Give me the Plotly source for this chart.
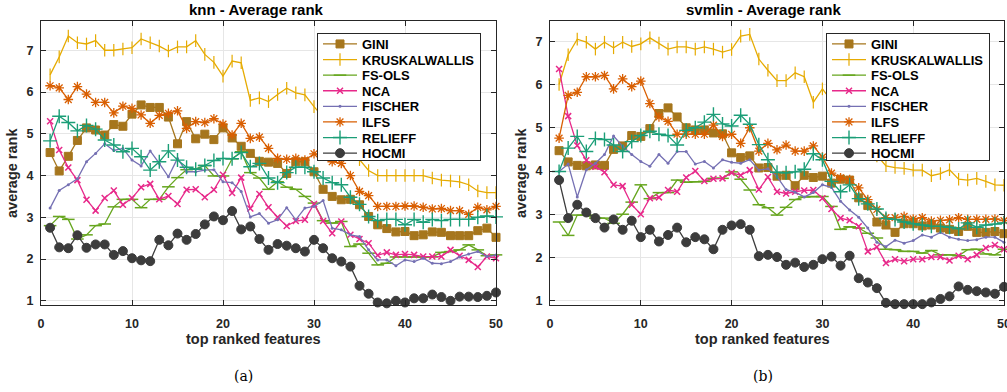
import plotly.graph_objects as go

x_vals = list(range(1, 51))
methods = ["GINI", "KRUSKALWALLIS", "FS-OLS", "NCA", "FISCHER", "ILFS", "RELIEFF", "HOCMI"]

knn = {
    "GINI": [4.55, 4.11, 4.46, 4.84, 5.14, 5.09, 4.97, 5.22, 5.18, 5.47, 5.69, 5.63, 5.63, 5.40, 4.76, 5.29, 4.88, 4.99, 4.86, 5.14,
             4.90, 4.70, 4.53, 4.34, 4.32, 4.29, 4.05, 4.33, 4.33, 4.09, 3.67, 3.50, 3.42, 3.43, 3.30, 3.02, 2.82, 2.73, 2.65, 2.66,
             2.56, 2.58, 2.65, 2.64, 2.56, 2.56, 2.56, 2.68, 2.74, 2.52],
    "KRUSKALWALLIS": [6.41, 6.84, 7.34, 7.18, 7.15, 7.23, 7.00, 7.00, 7.03, 7.06, 7.27, 7.18, 7.10, 6.98, 7.08, 7.08, 7.23, 6.90, 6.71, 6.38,
                      6.74, 6.70, 5.80, 5.86, 5.77, 5.94, 6.09, 5.98, 5.93, 5.65, 5.40, 5.10, 4.85, 4.62, 4.38, 4.12, 4.00, 4.00, 4.00, 4.00,
                      4.00, 4.00, 3.94, 3.89, 3.87, 3.85, 3.78, 3.63, 3.59, 3.59],
    "FS-OLS": [2.80, 3.02, 2.95, 2.48, 2.58, 2.80, 2.84, 3.25, 3.43, 3.43, 3.23, 3.43, 3.43, 3.73, 3.95, 4.14, 4.16, 4.24, 3.99, 3.99,
               4.40, 4.57, 4.07, 3.94, 3.67, 3.85, 3.72, 3.67, 3.50, 3.34, 2.92, 2.86, 2.90, 2.30, 2.36, 2.14, 1.86, 1.90, 2.05, 2.05,
               2.05, 2.05, 2.05, 2.16, 2.18, 2.22, 2.34, 2.22, 2.08, 2.10],
    "NCA": [5.30, 4.61, 4.19, 3.89, 3.42, 3.16, 3.46, 3.64, 3.30, 3.46, 3.72, 3.80, 3.43, 3.51, 3.32, 3.66, 3.67, 3.48, 3.66, 4.02,
            3.58, 3.95, 3.21, 3.56, 3.24, 3.00, 2.79, 2.91, 2.94, 3.32, 2.91, 2.62, 2.90, 2.58, 2.48, 2.38, 2.09, 2.16, 2.10, 2.12,
            2.10, 2.06, 2.06, 2.06, 2.22, 2.08, 1.98, 1.81, 2.06, 2.02],
    "FISCHER": [3.22, 3.64, 3.78, 3.92, 4.33, 4.53, 4.76, 4.60, 4.65, 4.37, 4.23, 4.59, 4.29, 3.97, 4.41, 4.09, 4.09, 4.13, 4.14, 3.85,
                3.83, 3.62, 3.01, 3.09, 2.86, 2.94, 3.23, 2.94, 3.22, 3.26, 3.40, 2.74, 2.70, 2.58, 2.54, 2.22, 1.98, 1.98, 1.84, 1.98,
                1.94, 2.02, 1.90, 1.89, 1.94, 2.05, 2.12, 2.18, 2.06, 2.10],
    "ILFS": [6.15, 6.10, 5.82, 6.13, 5.95, 5.75, 5.75, 5.50, 5.66, 5.61, 5.45, 5.25, 5.44, 5.49, 5.55, 5.13, 5.29, 5.27, 5.36, 5.23,
             4.97, 5.25, 4.89, 4.92, 4.65, 4.41, 4.39, 4.41, 4.37, 4.52, 4.49, 4.33, 4.29, 4.00, 3.62, 3.52, 3.26, 3.26, 3.26, 3.27,
             3.27, 3.24, 3.20, 3.21, 3.16, 3.16, 3.07, 3.24, 3.18, 3.26],
    "RELIEFF": [4.83, 5.42, 5.27, 5.07, 5.20, 5.11, 4.85, 4.73, 4.57, 4.65, 4.45, 4.13, 4.33, 4.59, 4.37, 4.20, 4.15, 4.24, 4.36, 4.41,
                4.40, 4.55, 4.21, 4.29, 3.94, 3.83, 4.07, 4.20, 4.20, 4.09, 3.94, 3.83, 3.78, 3.48, 3.31, 3.02, 2.92, 2.95, 2.95, 2.82,
                2.95, 2.88, 2.95, 2.92, 2.95, 2.95, 2.95, 3.00, 3.03, 3.01],
    "HOCMI": [2.75, 2.28, 2.26, 2.57, 2.27, 2.35, 2.35, 2.10, 2.19, 2.02, 1.97, 1.95, 2.46, 2.33, 2.61, 2.46, 2.60, 2.83, 3.02, 2.93,
              3.15, 2.71, 2.78, 2.48, 2.22, 2.36, 2.32, 2.26, 2.18, 2.46, 2.26, 2.02, 1.94, 1.82, 1.36, 1.17, 0.96, 0.94, 1.00, 0.96,
              1.06, 1.06, 1.15, 1.09, 1.00, 1.10, 1.10, 1.09, 1.12, 1.20],
}

svmlin = {
    "GINI": [4.47, 4.21, 4.13, 4.12, 4.14, 4.13, 4.50, 4.58, 4.82, 4.80, 4.98, 5.33, 5.46, 5.25, 5.00, 4.95, 4.95, 4.88, 4.86, 4.42,
             4.31, 4.35, 4.07, 4.08, 3.88, 3.90, 3.66, 3.90, 3.85, 3.88, 3.72, 3.81, 3.79, 3.38, 3.20, 2.82, 2.75, 2.58, 2.78, 2.78,
             2.73, 2.75, 2.68, 2.65, 2.60, 2.72, 2.58, 2.58, 2.60, 2.55],
    "KRUSKALWALLIS": [6.00, 6.69, 7.05, 6.98, 6.82, 6.98, 6.85, 6.98, 6.88, 6.94, 7.08, 6.96, 6.82, 6.87, 6.87, 6.82, 6.87, 6.82, 6.75, 6.81,
                      7.12, 7.16, 6.59, 6.33, 6.09, 6.09, 6.27, 6.18, 5.59, 5.90, 5.62, 5.35, 5.10, 4.85, 4.60, 4.35, 4.12, 4.08, 4.06, 4.02,
                      4.02, 3.89, 3.94, 4.03, 3.81, 3.79, 3.83, 3.76, 3.68, 3.67],
    "FS-OLS": [2.82, 2.51, 2.98, 2.98, 2.91, 2.91, 2.79, 3.00, 3.28, 3.68, 3.36, 3.50, 3.50, 3.79, 3.74, 3.75, 3.76, 3.83, 3.83, 3.98,
               3.81, 3.56, 3.22, 3.15, 2.98, 3.16, 3.34, 3.40, 3.41, 3.41, 3.18, 2.65, 2.71, 2.68, 2.56, 2.45, 2.19, 2.18, 2.14, 2.14,
               2.10, 2.16, 2.06, 2.06, 2.04, 2.18, 2.19, 2.08, 2.06, 2.19],
    "NCA": [6.36, 5.27, 4.59, 4.25, 4.10, 3.97, 3.68, 3.65, 3.22, 3.00, 3.37, 3.39, 3.56, 3.52, 3.85, 4.00, 3.77, 3.82, 3.83, 3.96,
            3.90, 4.02, 3.57, 3.86, 3.52, 3.48, 3.52, 3.55, 3.56, 3.37, 3.12, 2.91, 2.86, 2.72, 2.14, 2.24, 1.87, 1.96, 1.91, 1.96,
            1.96, 2.01, 2.01, 1.93, 2.04, 1.96, 2.06, 2.22, 2.29, 2.19],
    "FISCHER": [3.99, 4.16, 3.40, 4.03, 4.18, 4.38, 4.81, 4.57, 4.38, 4.22, 4.11, 4.38, 4.18, 4.45, 4.45, 4.16, 4.22, 4.07, 4.26, 4.20,
                4.18, 4.26, 4.02, 4.05, 3.87, 3.57, 3.51, 3.40, 3.50, 3.68, 3.62, 3.30, 3.10, 2.93, 2.68, 2.35, 2.25, 2.40, 2.33, 2.39,
                2.52, 2.47, 2.58, 2.47, 2.42, 2.39, 2.41, 2.47, 2.47, 2.35],
    "ILFS": [4.76, 5.75, 5.82, 6.18, 6.18, 6.21, 5.90, 6.13, 5.95, 6.08, 5.56, 5.25, 5.15, 4.85, 4.85, 4.85, 4.85, 5.06, 4.80, 4.85,
             4.64, 5.00, 4.46, 4.64, 4.49, 4.60, 4.46, 4.46, 4.58, 4.32, 3.95, 3.84, 3.80, 3.61, 3.34, 3.11, 2.92, 2.92, 2.95, 2.89,
             2.92, 2.84, 2.86, 2.87, 2.92, 2.88, 2.88, 2.88, 2.89, 2.85],
    "RELIEFF": [3.99, 4.53, 4.80, 4.45, 4.75, 4.73, 4.60, 4.45, 4.68, 4.82, 4.92, 4.85, 4.82, 4.60, 4.94, 5.00, 5.13, 5.31, 5.09, 5.04,
                5.29, 5.08, 4.61, 4.26, 3.97, 3.96, 3.98, 4.04, 4.40, 4.26, 3.76, 3.52, 3.68, 3.36, 3.24, 3.12, 2.90, 2.88, 2.82, 2.78,
                2.75, 2.72, 2.72, 2.70, 2.66, 2.80, 2.70, 2.75, 2.77, 2.80],
    "HOCMI": [3.79, 2.91, 3.22, 3.04, 2.91, 2.69, 2.88, 2.64, 2.85, 2.47, 2.64, 2.37, 2.52, 2.69, 2.35, 2.47, 2.42, 2.19, 2.64, 2.74,
              2.77, 2.64, 2.03, 2.06, 2.01, 1.83, 1.88, 1.78, 1.83, 1.96, 2.02, 1.81, 2.04, 1.52, 1.42, 1.29, 0.95, 0.92, 0.92, 0.92,
              0.92, 0.96, 1.04, 1.10, 1.33, 1.25, 1.22, 1.19, 1.16, 1.32],
}

x_ticks = [0, 10, 20, 30, 40, 50]
y_ticks = [1, 2, 3, 4, 5, 6, 7]
titles = ["knn - Average rank", "svmlin - Average rank"]
captions = ["(a)", "(b)"]
x_title = "top ranked features"
y_title = "average rank"

colors = {"GINI": "#a6761d", "KRUSKALWALLIS": "#e6ab02", "FS-OLS": "#66a61e", "NCA": "#e7298a",
          "FISCHER": "#7570b3", "ILFS": "#d95f02", "RELIEFF": "#1b9e77", "HOCMI": "#3c3c3c"}
symbols = {"GINI": "square", "KRUSKALWALLIS": "line-ns", "FS-OLS": "line-ew", "NCA": "x-thin",
           "FISCHER": "circle", "ILFS": "asterisk", "RELIEFF": "cross-thin", "HOCMI": "circle"}
msizes = {"GINI": 8, "KRUSKALWALLIS": 9, "FS-OLS": 9, "NCA": 6, "FISCHER": 3, "ILFS": 8, "RELIEFF": 10, "HOCMI": 9}
mlw = {"GINI": 1, "KRUSKALWALLIS": 1.2, "FS-OLS": 1.5, "NCA": 1.5, "FISCHER": 0, "ILFS": 1.3, "RELIEFF": 1.4, "HOCMI": 1}

FONT = "Liberation Sans, Arial, Helvetica, sans-serif"
W, H = 1007, 392

fig = go.Figure()
for idx, data in enumerate([knn, svmlin]):
    xa = "x" if idx == 0 else "x2"
    ya = "y" if idx == 0 else "y2"
    lg = "legend" if idx == 0 else "legend2"
    for m in methods:
        fig.add_trace(go.Scatter(
            x=x_vals, y=data[m], name=m, mode="lines+markers",
            xaxis=xa, yaxis=ya, legend=lg, cliponaxis=False,
            line=dict(color=colors[m], width=1.3),
            marker=dict(symbol=symbols[m], size=msizes[m], color=colors[m],
                        line=dict(color=colors[m], width=mlw[m])),
        ))

# pixel-based layout helpers
def px_x(p):
    return p / W

def px_y(p):
    return 1 - p / H

dom_x = [[px_x(41), px_x(496)], [px_x(550), px_x(1004)]]
dom_y = [px_y(305), px_y(21)]
yranges = [[0.9, 7.7], [0.9, 7.47]]

INK = "#262626"
axis_font = dict(family=FONT, size=12.5, color=INK, weight="bold")
label_font = dict(family=FONT, size=14.5, color=INK, weight="bold")
common_x = dict(range=[0, 50], tickvals=x_ticks, ticks="inside", ticklen=5, tickcolor=INK,
                showline=True, linecolor=INK, linewidth=1, mirror="allticks",
                showgrid=True, gridcolor="#e6e6e6", gridwidth=1, zeroline=False,
                tickfont=axis_font, automargin=False, ticklabelstandoff=7,
                ticklabeloverflow="allow")
common_y = dict(tickvals=y_ticks, ticks="inside", ticklen=5, tickcolor=INK,
                showline=True, linecolor=INK, linewidth=1, mirror="allticks",
                showgrid=True, gridcolor="#e6e6e6", gridwidth=1, zeroline=False,
                tickfont=axis_font, automargin=False, ticklabelstandoff=4)

legend_common = dict(xanchor="left", yanchor="top", bgcolor="white", bordercolor=INK, borderwidth=1,
                     font=dict(family=FONT, size=13, color="black", weight="bold"),
                     itemwidth=34, tracegroupgap=0)

fig.update_layout(
    width=W, height=H, autosize=False,
    margin=dict(l=0, r=0, t=0, b=0),
    paper_bgcolor="white", plot_bgcolor="white",
    font=dict(family=FONT, color=INK),
    xaxis=dict(domain=dom_x[0], anchor="y", **common_x),
    yaxis=dict(domain=dom_y, anchor="x", range=yranges[0], **common_y),
    xaxis2=dict(domain=dom_x[1], anchor="y2", **common_x),
    yaxis2=dict(domain=dom_y, anchor="x2", range=yranges[1], **common_y),
    legend=dict(x=px_x(317), y=px_y(33), **legend_common),
    legend2=dict(x=px_x(826), y=px_y(33), **legend_common),
    showlegend=True,
)

annotations = []
title_cx = [256, 763]
xlab_cx = [253, 762]
ylab_cx = [12, 521]
cap_x = [243, 763]
for i in range(2):
    annotations.append(dict(text=titles[i], x=px_x(title_cx[i]), y=px_y(9), xref="paper", yref="paper",
                            showarrow=False, xanchor="center", yanchor="middle",
                            font=dict(family=FONT, size=15, color="black", weight="bold")))
    annotations.append(dict(text=x_title, x=px_x(xlab_cx[i]), y=px_y(339), xref="paper", yref="paper",
                            showarrow=False, xanchor="center", yanchor="middle", font=label_font))
    annotations.append(dict(text=y_title, x=px_x(ylab_cx[i]), y=px_y(173), xref="paper", yref="paper",
                            showarrow=False, xanchor="center", yanchor="middle", textangle=-90, font=label_font))
    annotations.append(dict(text=captions[i], x=px_x(cap_x[i]), y=px_y(376), xref="paper", yref="paper",
                            showarrow=False, xanchor="center", yanchor="middle",
                            font=dict(family="DejaVu Serif, Liberation Serif, serif", size=14, color="black")))
fig.update_layout(annotations=annotations)

# compact the legend rows (Plotly's minimum row height is taller than the reference's)
post_js = """
document.body.style.margin='0';
document.body.style.overflow='hidden';
(function(){
  var gd = document.getElementById('{plot_id}');
  if(!gd) return;
  var STEP = 15.6, LIFT = 5.0, BOXH = 127;
  var groups = gd.querySelectorAll('g');
  groups.forEach(function(lg){
    var cls = lg.getAttribute('class') || '';
    if(!/^legend\\d*$/.test(cls)) return;
    var tr = lg.querySelectorAll('g.traces');
    if(!tr.length) return;
    var pos = [];
    tr.forEach(function(t){
      var m = /translate\\(\\s*([-\\d.e]+)[\\s,]+([-\\d.e]+)\\s*\\)/.exec(t.getAttribute('transform')||'');
      pos.push(m ? [parseFloat(m[1]), parseFloat(m[2])] : [0, 0]);
    });
    tr.forEach(function(t, i){
      t.setAttribute('transform', 'translate(' + pos[i][0] + ',' + (pos[0][1] - LIFT + STEP*i) + ')');
    });
    var bg = lg.querySelector('rect.bg');
    if(bg){ bg.setAttribute('height', BOXH); }
  });
})();
"""

fig.write_html("out.html", config={"displayModeBar": False}, post_script=post_js)
